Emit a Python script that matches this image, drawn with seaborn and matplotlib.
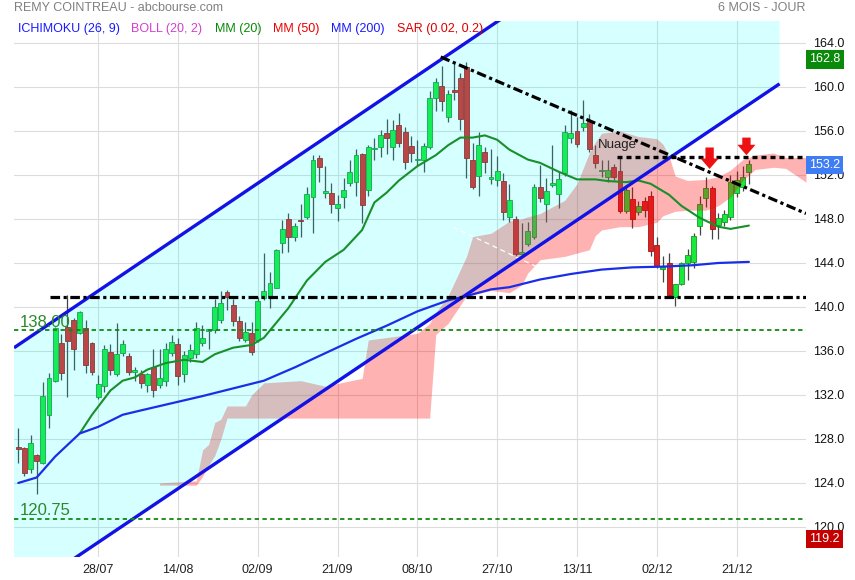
import matplotlib
matplotlib.use("Agg")
import matplotlib.pyplot as plt
import matplotlib.transforms as mtransforms
import numpy as np
import pandas as pd
import seaborn as sns

# ---------------- data ----------------
opens = [127.3, 127.15, 125.3, 126.5, 125.85, 130.2, 133.3, 136.7, 138.15, 138.8,
         137.6, 138.05, 136.7, 131.8, 132.8, 135.9, 133.9, 135.8, 135.5, 134.1,
         133.9, 132.9, 134.5, 132.9, 133.3, 135.85, 136.6, 133.9, 135.4, 135.7,
         136.75, 137.8, 137.9, 138.8, 141.33, 140.2, 138.7, 137.0, 137.6, 137.0,
         140.85, 140.9, 141.75, 145.8, 147.97, 146.33, 147.9, 148.15, 150.0, 153.5,
         150.4, 150.33, 149.0, 150.0, 151.3, 151.4, 153.9, 150.6, 154.35, 154.5,
         155.8, 154.57, 156.55, 155.9, 154.64, 153.35, 153.4, 154.57, 158.97, 160.1,
         157.24, 159.73, 160.85, 161.79, 153.36, 151.94, 154.06, 151.6, 151.5, 151.45,
         148.15, 148.0, 144.82, 145.73, 146.4, 150.9, 149.4, 151.1, 150.3, 152.2,
         155.4, 156.0, 156.4, 156.94, 153.8, 152.35, 151.8, 152.7, 152.4, 148.76,
         149.8, 148.6, 149.67, 150.1, 145.6, 143.45, 143.97, 140.9, 142.1, 144.03,
         144.1, 147.4, 149.9, 150.8, 147.45, 147.7, 148.15, 150.4, 150.9, 152.3]
highs = [129.0, 127.3, 128.4, 126.6, 133.2, 134.0, 138.2, 137.5, 141.1, 139.0,
         139.6, 138.8, 136.8, 133.8, 136.5, 136.6, 138.5, 137.0, 135.8, 134.5,
         134.3, 134.0, 136.2, 136.2, 136.7, 137.45, 137.2, 136.0, 136.6, 138.6,
         138.4, 138.0, 140.7, 141.45, 141.55, 140.7, 139.2, 138.6, 138.6, 140.9,
         144.9, 143.2, 145.3, 147.9, 148.5, 147.6, 149.35, 150.9, 153.8, 153.8,
         152.8, 151.3, 150.2, 151.7, 153.4, 154.4, 153.97, 154.7, 155.4, 156.1,
         157.06, 157.0, 157.6, 156.4, 155.5, 155.2, 154.9, 159.6, 160.8, 161.9,
         159.73, 162.2, 161.24, 162.3, 154.9, 155.94, 154.57, 154.4, 153.7, 152.15,
         151.2, 148.3, 147.6, 147.7, 151.2, 152.9, 151.7, 154.7, 152.3, 156.55,
         157.9, 157.3, 158.8, 157.5, 154.7, 153.4, 153.4, 153.0, 153.67, 150.9,
         150.9, 149.6, 150.0, 150.5, 146.4, 144.6, 144.9, 142.1, 144.1, 145.3,
         146.7, 150.1, 151.85, 151.0, 148.5, 148.8, 152.0, 152.4, 152.8, 153.4]
lows = [125.8, 124.6, 124.9, 123.0, 125.7, 129.0, 133.2, 133.4, 131.85, 134.3,
        137.5, 134.0, 133.8, 131.6, 132.3, 133.8, 133.7, 135.5, 133.8, 133.3,
        132.6, 132.3, 131.8, 132.6, 132.8, 135.5, 132.9, 133.2, 135.0, 135.4,
        136.45, 136.15, 137.6, 138.5, 139.7, 138.3, 136.9, 136.8, 135.6, 136.8,
        140.6, 139.9, 141.7, 144.9, 145.0, 146.0, 146.4, 148.0, 146.75, 151.4,
        149.9, 148.5, 147.8, 149.0, 151.0, 150.1, 147.6, 150.1, 153.4, 153.6,
        153.9, 153.4, 154.5, 152.5, 153.2, 152.8, 152.3, 154.4, 157.85, 157.85,
        156.85, 158.8, 156.1, 151.7, 150.7, 150.09, 152.15, 151.2, 151.0, 147.9,
        147.7, 144.6, 144.6, 145.5, 146.2, 149.5, 147.7, 150.9, 149.0, 151.9,
        154.9, 154.5, 156.0, 154.06, 152.6, 151.8, 151.4, 151.5, 148.5, 148.5,
        147.15, 148.4, 148.2, 144.6, 143.5, 142.3, 140.9, 140.1, 142.0, 142.45,
        143.5, 146.5, 149.1, 146.2, 146.15, 147.4, 147.9, 150.0, 150.5, 151.15]
closes = [127.1, 124.9, 127.6, 126.0, 131.9, 133.5, 138.1, 134.0, 136.9, 136.15,
          139.5, 134.7, 134.1, 133.0, 136.2, 134.3, 135.7, 136.6, 134.1, 134.2,
          133.05, 133.9, 132.45, 133.5, 136.15, 136.85, 133.75, 135.6, 136.1, 138.05,
          137.2, 138.0, 139.97, 140.4, 140.9, 138.7, 137.15, 137.7, 135.9, 140.55,
          141.45, 142.15, 145.2, 147.06, 146.33, 147.36, 147.8, 150.3, 153.4, 152.75,
          150.5, 149.33, 149.4, 150.6, 152.25, 153.8, 149.3, 154.5, 154.45, 155.6,
          155.4, 156.1, 154.94, 153.2, 154.03, 153.45, 154.64, 158.97, 160.45, 158.76,
          159.36, 159.5, 157.06, 153.5, 150.88, 154.73, 153.2, 151.85, 152.36, 148.6,
          149.73, 144.8, 144.97, 146.9, 150.9, 149.94, 150.55, 151.2, 151.6, 155.9,
          155.8, 154.8, 156.7, 154.4, 153.06, 152.45, 152.45, 151.8, 148.76, 150.6,
          147.97, 149.2, 148.82, 145.1, 143.7, 143.55, 141.1, 142.1, 144.0, 144.7,
          146.45, 149.4, 150.8, 147.06, 148.06, 148.45, 151.4, 151.55, 151.85, 153.0]

date_labels = ["28/07", "14/08", "02/09", "21/09", "08/10", "27/10", "13/11", "02/12", "21/12"]
date_pos = [13, 26, 39, 52, 65, 78, 91, 104, 117]
y_ticks = [120, 124, 128, 132, 136, 140, 144, 148, 152, 156, 160, 164]

mm20_idx = [10, 12, 15, 17, 19, 21, 24, 27, 30, 32, 35, 38, 40, 44, 47, 50, 53, 56, 58, 60,
            62, 65, 68, 70, 72, 74, 76, 78, 80, 83, 85, 88, 91, 94, 96, 99, 101, 103, 106,
            108, 111, 114, 116, 119]
mm20_val = [128.5, 130.2, 132.4, 133.3, 133.6, 134.3, 134.9, 135.2, 135.0, 135.7, 136.3, 136.55,
            137.2, 139.9, 142.4, 144.1, 145.2, 147.0, 149.5, 150.4, 151.5, 152.8, 153.8, 154.7,
            155.4, 155.4, 155.6, 155.2, 154.3, 153.4, 153.1, 152.3, 151.6, 151.6, 151.45, 151.35,
            151.5, 151.2, 150.2, 149.2, 148.1, 147.3, 147.1, 147.4]

mm200_idx = [0, 3, 6, 10, 13, 17, 20, 30, 40, 45, 50, 55, 60, 65, 70, 73, 77, 80, 85, 90,
             95, 100, 105, 110, 114, 119]
mm200_val = [124.0, 124.5, 126.4, 128.5, 129.1, 130.2, 130.6, 131.9, 133.3, 134.5, 135.8, 137.1,
             138.3, 139.6, 140.6, 141.0, 141.6, 141.8, 142.5, 143.0, 143.4, 143.6, 143.67, 143.8,
             144.0, 144.1]

cloud_idx = [23, 29, 30, 31, 32, 33, 34, 37, 38, 40, 46, 50, 55, 56, 57, 65, 67, 68, 70, 73,
             74, 77, 80, 82, 83, 85, 89, 91, 93, 94, 95, 98, 101, 104, 105, 106, 107, 109,
             112, 114, 116, 118, 120, 123, 125, 128.3]
cloud_top = [124.0, 124.2, 127.0, 127.5, 129.5, 129.8, 131.0, 131.0, 132.0, 133.1, 133.3, 132.8,
             133.4, 133.5, 137.0, 137.6, 138.5, 139.5, 141.0, 144.6, 146.4, 146.7, 147.8, 148.0,
             148.2, 148.5, 149.7, 151.2, 154.0, 155.0, 155.8, 156.0, 155.5, 155.3, 154.8, 153.7,
             151.9, 151.5, 151.6, 151.85, 152.45, 153.4, 153.8, 154.0, 153.6, 153.6]
cloud_bot = [123.8, 123.8, 124.6, 125.6, 126.5, 128.0, 129.9, 129.9, 129.9, 129.9, 129.9, 129.9,
             129.9, 129.9, 129.9, 129.9, 129.9, 137.5, 138.5, 141.0, 141.1, 141.5, 141.3, 142.0,
             143.1, 144.3, 144.6, 144.9, 145.2, 146.5, 147.0, 147.3, 147.3, 147.7, 148.3, 148.5,
             148.7, 148.8, 148.8, 149.2, 150.0, 151.5, 152.5, 152.7, 152.6, 151.35]

channel_idx = [-0.7, 124.0]
channel_up = [136.29, 183.27]
channel_lo = [113.45, 160.29]

support_idx = [5.2, 128.3]
support_val = [140.9, 140.9]
trend_idx = [68.8, 128.3]
trend_val = [162.73, 148.5]
resist_idx = [97.5, 128.3]
resist_val = [153.6, 153.6]
ghost_idx = [70.8, 84.5]
ghost_val = [147.27, 143.64]

levels = [137.9, 120.75]
level_labels = ["138.00", "120.75"]

arrow_idx = [112.6, 118.6]
arrow_top = [154.5, 155.4]
arrow_tip = [152.55, 153.8]

tags = [(162.8, "162.8", "#0a8a0a"), (153.2, "153.2", "#3f7df5"), (119.2, "119.2", "#c40000")]

legend_items = [("ICHIMOKU (26, 9)", "#1a1aff"), ("BOLL (20, 2)", "#d040d0"),
                ("MM (20)", "#088a08"), ("MM (50)", "#ee0000"), ("MM (200)", "#1a1aff"),
                ("SAR (0.02, 0.2)", "#dd0000")]
legend_x = [18, 131, 215, 273, 331, 397]

# ---------------- style ----------------
sns.set_style("white")
plt.rcParams['font.family'] = ['Liberation Sans', 'DejaVu Sans']

W, H = 855, 580
fig = plt.figure(figsize=(W / 100, H / 100), dpi=100)
L, R, T, B = 14, 806, 21, 557
ax = fig.add_axes([L / W, (H - B) / H, (R - L) / W, (B - T) / H])
ax.set_xlim(-0.7, 128.3)
ax.set_ylim(117.27, 166.0)
for s in ax.spines.values():
    s.set_visible(False)

# grid
for yv in y_ticks:
    ax.axhline(yv, color="#dcdcdc", lw=0.8, zorder=0.5)
for xv in date_pos:
    ax.axvline(xv, color="#dcdcdc", lw=0.8, zorder=0.5)

# candles
df = pd.DataFrame({"i": np.arange(len(opens)), "o": opens, "h": highs, "l": lows, "c": closes})
up = df["c"] >= df["o"]
ax.vlines(df["i"], df["l"], df["h"], color="#444444", lw=0.9, zorder=2)
body_lo = np.minimum(df["o"], df["c"])
body_h = np.maximum(np.abs(df["c"] - df["o"]), 0.14)
ax.bar(df["i"][up], body_h[up], bottom=body_lo[up], width=0.8, color="#18ea3a",
       edgecolor="#17962a", linewidth=0.6, zorder=2.2)
ax.bar(df["i"][~up], body_h[~up], bottom=body_lo[~up], width=0.8, color="#dd2424",
       edgecolor="#a01515", linewidth=0.6, zorder=2.2)

# ichimoku cloud
ax.fill_between(cloud_idx, cloud_bot, cloud_top, color=(1, 0, 0), alpha=0.3, lw=0, zorder=3)

# regression channel
ax.fill_between(channel_idx, channel_lo, channel_up, color=(0, 1, 1), alpha=0.16, lw=0, zorder=3.5)

# moving averages
sns.lineplot(x=mm20_idx, y=mm20_val, ax=ax, color="#17902a", lw=1.5, zorder=4)
sns.lineplot(x=mm200_idx, y=mm200_val, ax=ax, color="#1a2ee8", lw=1.6, zorder=4)

# channel lines
ax.plot(channel_idx, channel_up, color="#1212e6", lw=2.4, zorder=5, solid_capstyle="butt")
ax.plot(channel_idx, channel_lo, color="#1212e6", lw=2.4, zorder=5, solid_capstyle="butt")

# drawn lines
ax.plot(support_idx, support_val, color="black", lw=2.3, ls=(0, (3, 1.1, 1, 1.1)), zorder=5)
ax.plot(trend_idx, trend_val, color="black", lw=2.3, ls=(0, (3, 1.1, 1, 1.1)), zorder=5)
ax.plot(resist_idx, resist_val, color="black", lw=2.4, ls=(0, (1.5, 1.2)), zorder=5)
ax.plot(ghost_idx, ghost_val, color="white", lw=0.9, ls=(0, (4, 3)), zorder=3.6)

for lv, lab in zip(levels, level_labels):
    ax.axhline(lv, color="#108a10", lw=1.3, ls=(0, (2.4, 1.9)), zorder=5)
    ax.text(0.25, lv + 0.05, lab, color="#2a8a2a", fontsize=12, ha="left", va="bottom", zorder=6)

# arrows
for xi, yt, yp in zip(arrow_idx, arrow_top, arrow_tip):
    ax.annotate("", xy=(xi, yp), xytext=(xi, yt),
                arrowprops=dict(arrowstyle="simple,head_width=1.3,head_length=0.75,tail_width=0.6",
                                color="#ee1111", lw=0, shrinkA=0, shrinkB=0, mutation_scale=10),
                zorder=6)

ax.text(94.4, 154.7, "Nuage", fontsize=9.5, color="#222222", ha="left", va="center", zorder=6)

# axis ticks
ax.set_xticks(date_pos)
ax.set_xticklabels(date_labels)
ax.set_yticks(y_ticks)
ax.set_yticklabels([f"{v:.1f}" for v in y_ticks])
ax.yaxis.tick_right()
ax.tick_params(axis="y", length=0, pad=5, labelsize=9, labelcolor="#111111")
ax.tick_params(axis="x", length=0, pad=5, labelsize=9, labelcolor="#222222")
ax.set_xlabel("")
ax.set_ylabel("")

# price tags
trans = mtransforms.blended_transform_factory(ax.transAxes, ax.transData)
for val, lab, col in tags:
    ax.text(1.004, val - 0.3, lab, transform=trans, fontsize=9, color="white", ha="left", va="center",
            bbox=dict(boxstyle="square,pad=0.25", fc=col, ec="none"), zorder=7, clip_on=False)

# legend texts and header
for (txt, col), xp in zip(legend_items, legend_x):
    fig.text(xp / W, 1 - 29 / H, txt, color=col, fontsize=9, ha="left", va="center")
fig.text(14 / W, 1 - 8 / H, "REMY COINTREAU - abcbourse.com", color="#808080", fontsize=9,
         ha="left", va="center")
fig.text(805 / W, 1 - 8 / H, "6 MOIS - JOUR", color="#808080", fontsize=9, ha="right", va="center")

fig.savefig("out.png", dpi=100)
